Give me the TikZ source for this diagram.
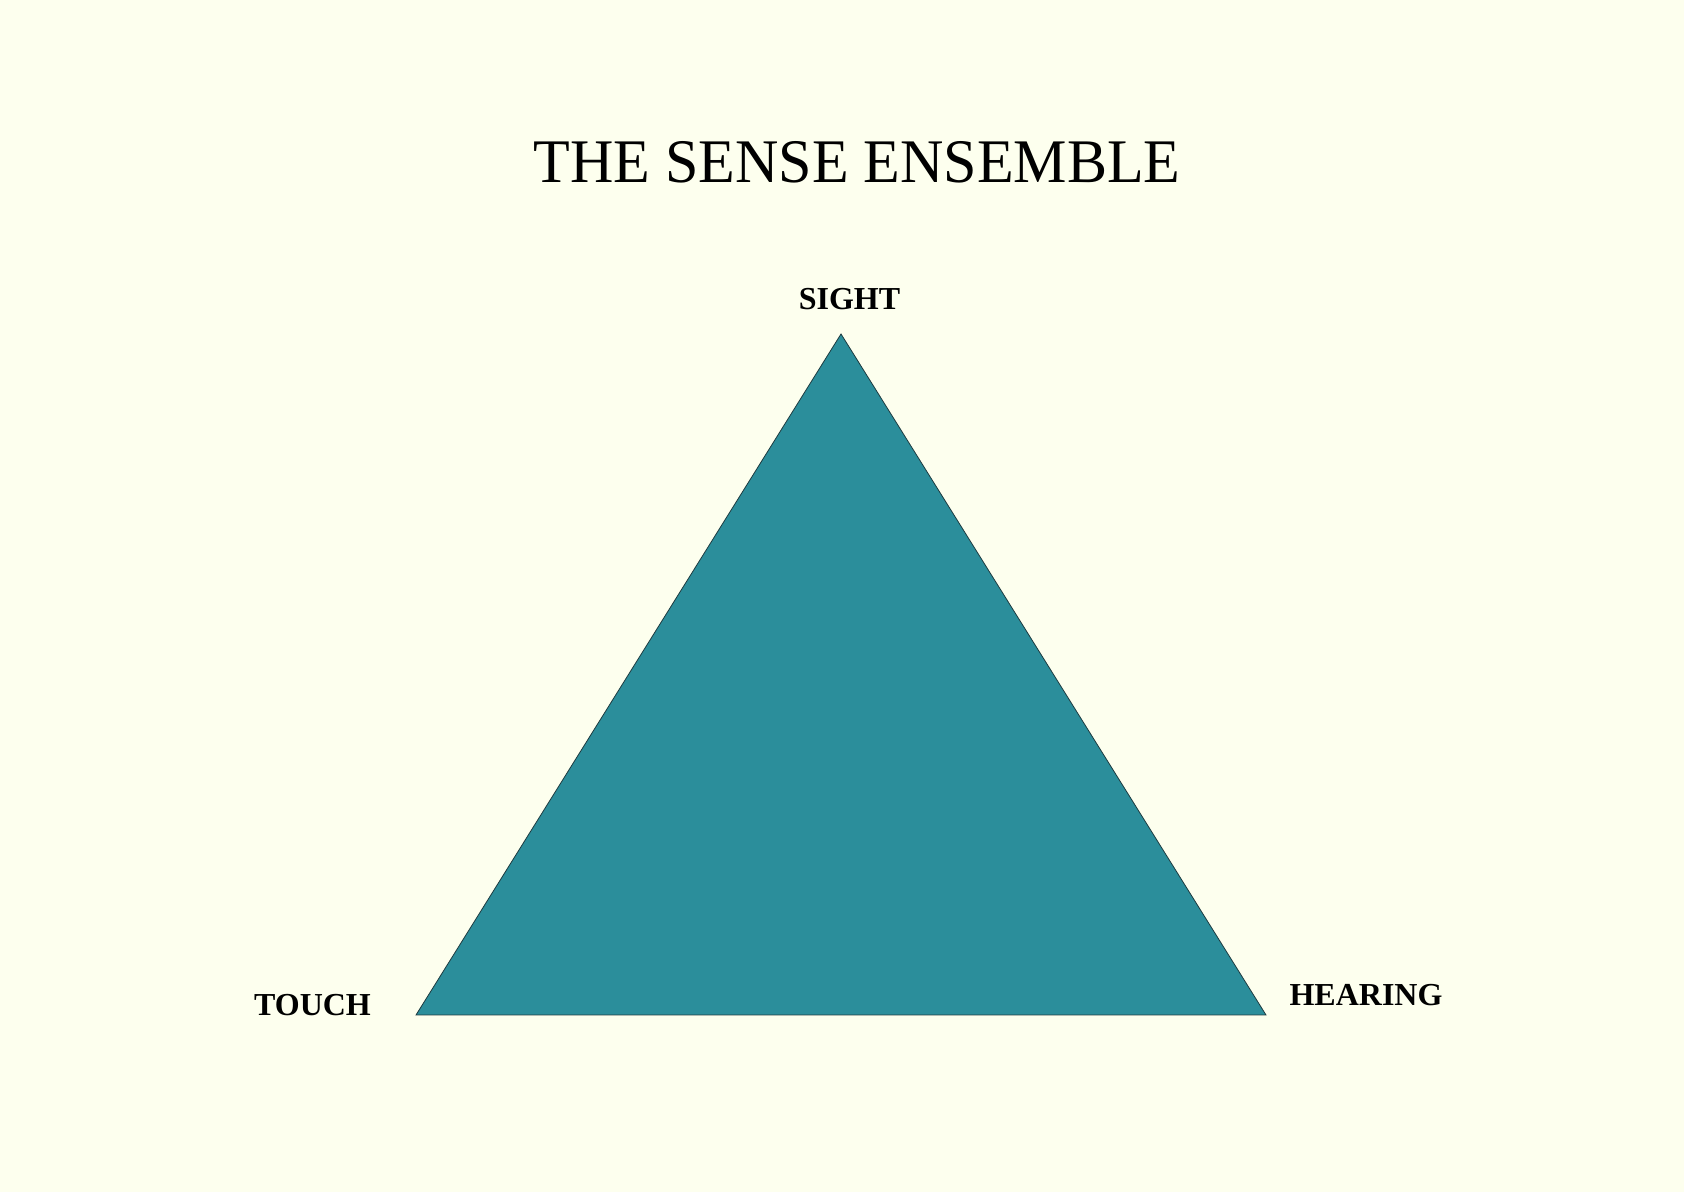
\documentclass[tikz,border=0pt]{standalone}
\usepackage{fontspec}
\setmainfont{Liberation Serif}
\definecolor{bgcream}{HTML}{FDFFEE}
\definecolor{tealfill}{HTML}{2B8E9B}
\definecolor{edgedark}{HTML}{1E3B40}
\begin{document}
\begin{tikzpicture}[x=1pt,y=1pt,
  lbl/.style={anchor=base,inner sep=0pt,font=\fontsize{16}{19}\selectfont\bfseries},
  ttl/.style={anchor=base,inner sep=0pt,xscale=0.968,font=\fontsize{31}{36}\selectfont}]
\fill[bgcream] (0,0) rectangle (842,596);
\useasboundingbox (0,0) rectangle (842,596);
\coordinate (apex) at (420.5,429);
\coordinate (bl) at (208,88.5);
\coordinate (br) at (633,88.5);
\filldraw[fill=tealfill,draw=edgedark,line width=0.4pt] (apex) -- (br) -- (bl) -- cycle;
\node[ttl] (title) at (428.5,504.7) {THE SENSE ENSEMBLE};
\node[lbl] (sight) at (424.75,441) {SIGHT};
\node[lbl] (touch) at (156.25,88) {TOUCH};
\node[lbl] (hearing) at (683,93) {HEARING};
\end{tikzpicture}
\end{document}
